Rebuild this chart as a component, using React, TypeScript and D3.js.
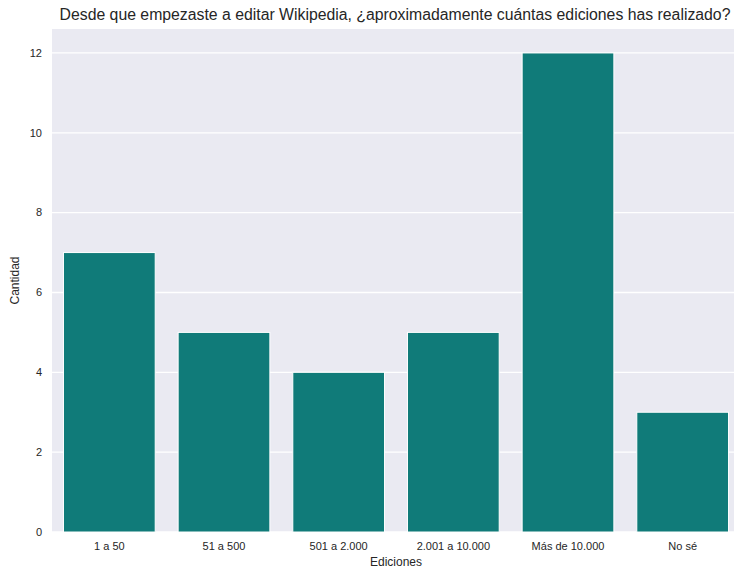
import React, { useEffect, useRef } from "react";
import * as d3 from "d3";

const categories = ["1 a 50", "51 a 500", "501 a 2.000", "2.001 a 10.000", "Más de 10.000", "No sé"];
const values = [7, 5, 4, 5, 12, 3];
const yTicks = [0, 2, 4, 6, 8, 10, 12];
const title = "Desde que empezaste a editar Wikipedia, ¿aproximadamente cuántas ediciones has realizado?";
const xLabel = "Ediciones";
const yLabel = "Cantidad";

export default function App() {
  const ref = useRef<SVGSVGElement>(null);
  useEffect(() => {
    document.body.style.margin = "0";
    const svg = d3.select(ref.current);
    svg.selectAll("*").remove();
    const m = { left: 52, right: 740, top: 29, bottom: 532 };
    const font = "'Liberation Sans', Arial, sans-serif";
    const x = d3.scaleBand().domain(categories).range([m.left, m.right]).paddingInner(0.2).paddingOuter(0.1);
    const y = d3.scaleLinear().domain([0, 12.6]).range([m.bottom, m.top]);

    svg.append("rect").attr("x", m.left).attr("y", m.top).attr("width", m.right - m.left).attr("height", m.bottom - m.top).attr("fill", "#EAEAF2");
    svg.append("g").selectAll("line").data(yTicks).join("line")
      .attr("x1", m.left).attr("x2", m.right)
      .attr("y1", d => y(d)).attr("y2", d => y(d))
      .attr("stroke", "white").attr("stroke-width", 1.3);

    svg.append("g").selectAll("rect").data(values).join("rect")
      .attr("x", (d, i) => x(categories[i])!)
      .attr("width", x.bandwidth())
      .attr("y", d => y(d))
      .attr("height", d => y(0) - y(d))
      .attr("fill", "#107B79")
      .attr("stroke", "white").attr("stroke-width", 1);

    svg.append("g").selectAll("text").data(yTicks).join("text")
      .attr("x", m.left - 10).attr("y", d => y(d)).attr("dy", "0.35em")
      .attr("text-anchor", "end").attr("font-family", font).attr("font-size", 11).attr("fill", "#262626")
      .text(d => d);
    svg.append("g").selectAll("text").data(categories).join("text")
      .attr("x", d => x(d)! + x.bandwidth() / 2).attr("y", m.bottom + 18)
      .attr("text-anchor", "middle").attr("font-family", font).attr("font-size", 11).attr("fill", "#262626")
      .text(d => d);

    svg.append("text").attr("x", (m.left + m.right) / 2).attr("y", m.bottom + 34)
      .attr("text-anchor", "middle").attr("font-family", font).attr("font-size", 12).attr("fill", "#262626").text(xLabel);
    svg.append("text").attr("transform", `translate(19,${(m.top + m.bottom) / 2}) rotate(-90)`)
      .attr("text-anchor", "middle").attr("font-family", font).attr("font-size", 12).attr("fill", "#262626").text(yLabel);
    svg.append("text").attr("x", (m.left + m.right) / 2 - 1).attr("y", 20)
      .attr("text-anchor", "middle").attr("font-family", font).attr("font-size", 15.8).attr("fill", "#262626").text(title);
  }, []);
  return <svg ref={ref} width={734} height={570} style={{ display: "block" }} />;
}
